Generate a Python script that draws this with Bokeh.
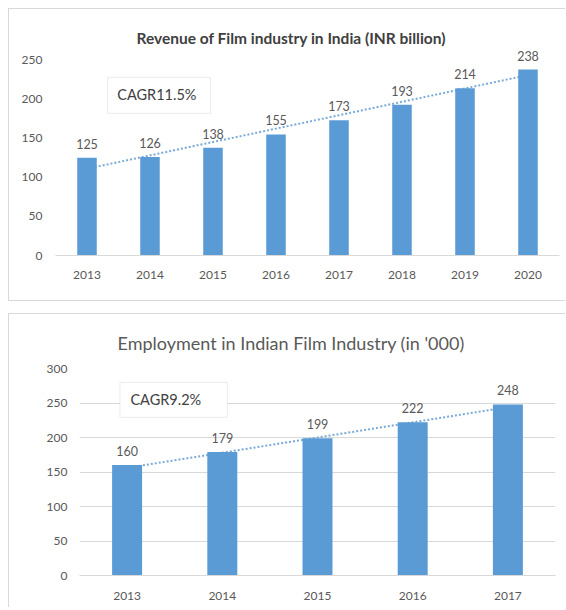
from bokeh.plotting import figure
from bokeh.layouts import column
from bokeh.models import (ColumnDataSource, FixedTicker, BoxAnnotation, Label,
                          InlineStyleSheet, FactorRange, Range1d)
from bokeh.core.properties import value
from bokeh.embed import file_html
from bokeh.resources import INLINE

# ---- data ----
years_rev = ["2013", "2014", "2015", "2016", "2017", "2018", "2019", "2020"]
revenue = [125, 126, 138, 155, 173, 193, 214, 238]
rev_trend = [111, 231]          # dotted trend line at first / last year
rev_title = "Revenue of Film industry in India  (INR billion)"
rev_cagr = "CAGR11.5%"
rev_ticks = [0, 50, 100, 150, 200, 250]

years_emp = ["2013", "2014", "2015", "2016", "2017"]
employment = [160, 179, 199, 222, 248]
emp_trend = [156, 244]
emp_title = "Employment in Indian Film Industry (in '000)"
emp_cagr = "CAGR9.2%"
emp_ticks = [0, 50, 100, 150, 200, 250, 300]

BLUE = "#5b9bd5"
TREND = "#7aaad6"
GRAY_TXT = "#595959"
LINE_GRAY = "#d9d9d9"
FONT = "Lato"


def style_axes(p, standoff_y, standoff_x):
    for ax in (p.xaxis[0], p.yaxis[0]):
        ax.major_tick_line_color = None
        ax.minor_tick_line_color = None
        ax.major_tick_out = 0
        ax.major_tick_in = 0
        ax.major_label_text_font = FONT
        ax.major_label_text_font_size = "12px"
        ax.major_label_text_color = GRAY_TXT
    p.yaxis[0].axis_line_color = None
    p.yaxis[0].major_label_standoff = standoff_y
    p.xaxis[0].axis_line_color = LINE_GRAY
    p.xaxis[0].major_label_standoff = standoff_x
    p.outline_line_color = None
    p.xgrid.grid_line_color = None
    p.frame_align = False


# ---------- top chart ----------
p1 = figure(x_range=FactorRange(*years_rev, range_padding=0), y_range=Range1d(0, 265),
            width=557, height=293, min_border_left=46, min_border_right=7,
            min_border_top=39, min_border_bottom=47,
            output_backend="svg", toolbar_location=None, title=rev_title)
style_axes(p1, 13, 15)
p1.ygrid.grid_line_color = None
p1.yaxis[0].ticker = FixedTicker(ticks=rev_ticks)
p1.title.text_font = FONT
p1.title.text_font_style = "bold"
p1.title.text_font_size = "15.5px"
p1.title.text_color = "#404040"
p1.title.align = "left"
p1.title.offset = 81
p1.title.vertical_align = "bottom"
p1.title.standoff = 4

src1 = ColumnDataSource(dict(x=years_rev, top=revenue, lab=[str(v) for v in revenue]))
p1.line(x=[years_rev[0], years_rev[-1]], y=rev_trend, line_color=TREND,
        line_width=2, line_dash="2 2")
p1.vbar(x="x", top="top", width=0.31, source=src1, fill_color=BLUE, line_color=None)
p1.text(x="x", y="top", text="lab", source=src1, text_align="center",
        text_baseline="middle", y_offset=-14, text_font=value(FONT),
        text_font_size="12.5px", text_color=GRAY_TXT)
p1.add_layout(BoxAnnotation(left=0.825, right=2.46, top=228, bottom=182,
                            fill_color="white", fill_alpha=1.0,
                            line_color="#bfbfbf", line_width=1))
p1.add_layout(Label(x=0.98, y=206, text=rev_cagr, text_font=FONT,
                    text_font_size="14.5px", text_baseline="middle",
                    text_color="#404040"))

# ---------- bottom chart ----------
p2 = figure(x_range=FactorRange(*years_emp, range_padding=0), y_range=Range1d(0, 300),
            width=557, height=294, min_border_left=70, min_border_right=11,
            min_border_top=53, min_border_bottom=33,
            output_backend="svg", toolbar_location=None, title=emp_title)
style_axes(p2, 12, 16)
p2.ygrid.grid_line_color = LINE_GRAY
p2.ygrid.grid_line_width = 1
p2.yaxis[0].ticker = FixedTicker(ticks=emp_ticks)
p2.title.text_font = FONT
p2.title.text_font_style = "normal"
p2.title.text_font_size = "18px"
p2.title.text_color = GRAY_TXT
p2.title.align = "left"
p2.title.offset = 38
p2.title.vertical_align = "bottom"
p2.title.standoff = 30

src2 = ColumnDataSource(dict(x=years_emp, top=employment, lab=[str(v) for v in employment]))
p2.line(x=[years_emp[0], years_emp[-1]], y=emp_trend, line_color=TREND,
        line_width=2, line_dash="2 2")
p2.vbar(x="x", top="top", width=0.315, source=src2, fill_color=BLUE, line_color=None)
p2.text(x="x", y="top", text="lab", source=src2, text_align="center",
        text_baseline="middle", y_offset=-14, text_font=value(FONT),
        text_font_size="12.5px", text_color=GRAY_TXT)
p2.add_layout(BoxAnnotation(left=0.425, right=1.553, top=279.8, bottom=229.3,
                            fill_color="white", fill_alpha=1.0,
                            line_color="#bfbfbf", line_width=1))
p2.add_layout(Label(x=0.535, y=255, text=emp_cagr, text_font=FONT,
                    text_font_size="14.5px", text_baseline="middle",
                    text_color="#404040"))

p1.stylesheets = [InlineStyleSheet(css=":host { border-left: 1px solid #d9d9d9; border-top: 1px solid #d9d9d9; border-bottom: 1px solid #d9d9d9; }")]
p2.stylesheets = [InlineStyleSheet(css=":host { border-left: 1px solid #d9d9d9; border-top: 1px solid #d9d9d9; }")]
p1.margin = (8, 0, 0, 8)
p2.margin = (12, 0, 0, 8)

layout = column(p1, p2, spacing=0)
open("out.html", "w").write(file_html(layout, INLINE))
